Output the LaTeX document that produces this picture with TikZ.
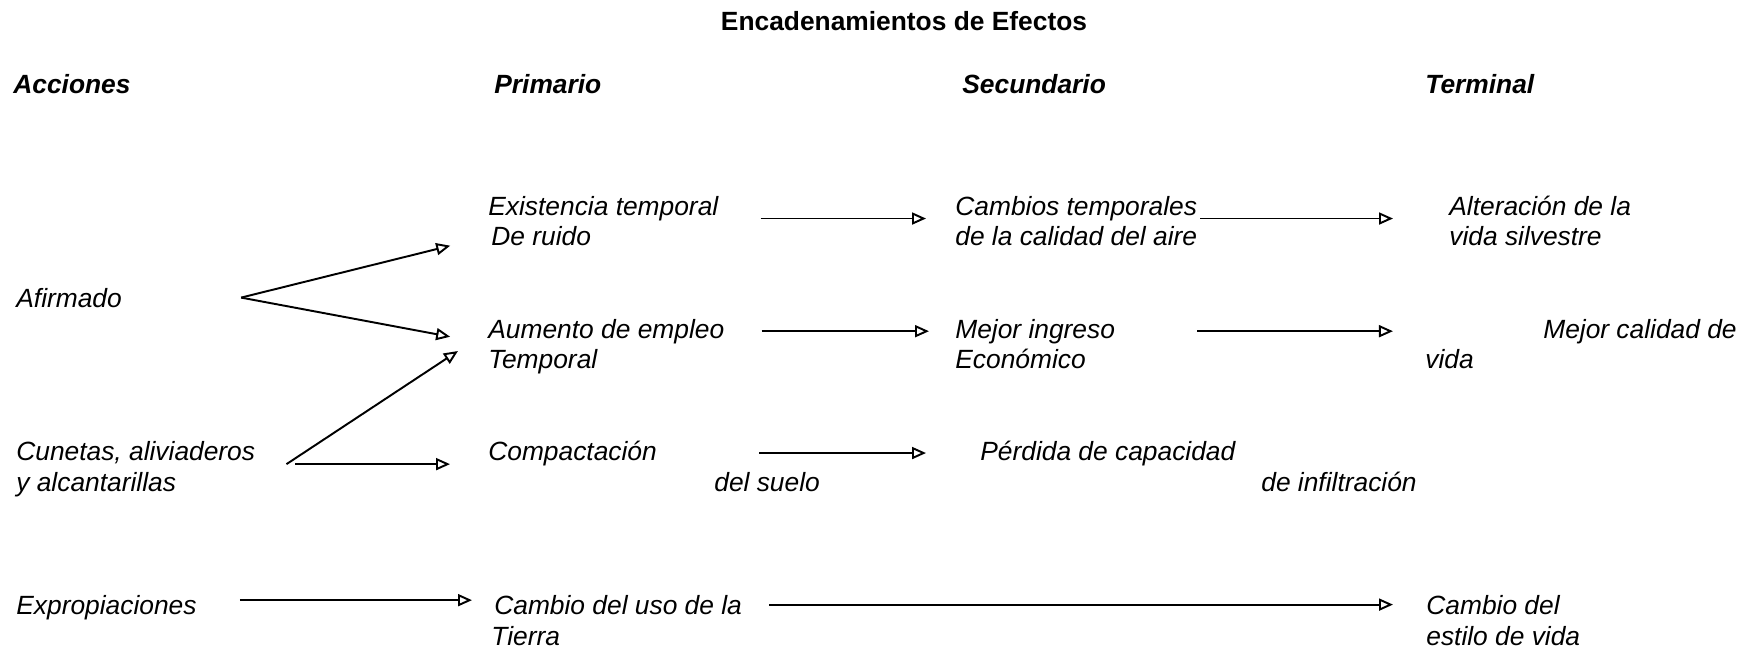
\documentclass[tikz,border=0pt]{standalone}
\usepackage{fontspec}
\setmainfont{Liberation Sans}
\usepackage{tikz}
\usetikzlibrary{arrows.meta, positioning, calc}

\begin{document}
\begin{tikzpicture}[
    x=0.02cm, y=-0.02cm,
    lbl/.style={inner sep=0pt, anchor=base west, font=\fontsize{15}{18}\selectfont\itshape},
    colhead/.style={lbl, font=\fontsize{15}{18}\selectfont\bfseries\itshape},
    arr/.style={-{Triangle[open, length=2.8mm, width=2.4mm, line width=1.1pt]}, line width=1.1pt}
]
\useasboundingbox (0,0) rectangle (1750,650);

% Title and column heads
\node[inner sep=0pt, anchor=base, font=\fontsize{15}{18}\selectfont\bfseries] (title) at (904,30) {Encadenamientos de Efectos};
\node[colhead] (acciones) at (13,93) {Acciones};
\node[colhead] (primario) at (494,93) {Primario};
\node[colhead] (secundario) at (962,93) {Secundario};
\node[colhead] (terminal) at (1425,93) {Terminal};

% Actions
\node[lbl] (afirm) at (16,307) {Afirmado};
\node[lbl] (cunetas) at (16,460) {Cunetas, aliviaderos};
\node[lbl] (cunetas2) at (16,491) {y alcantarillas};
\node[lbl] (expro) at (16,614) {Expropiaciones};

% Primary effects
\node[lbl] (exist) at (488,215) {Existencia temporal};
\node[lbl] (ruido) at (491,245) {De ruido};
\node[lbl] (aument) at (488,338) {Aumento de empleo};
\node[lbl] (aument2) at (488,368) {Temporal};
\node[lbl] (compact) at (488,460) {Compactación};
\node[lbl] (compact2) at (714,491) {del suelo};
\node[lbl] (uso) at (494,614) {Cambio del uso de la};
\node[lbl] (uso2) at (491,645) {Tierra};

% Secondary effects
\node[lbl] (cambt) at (955,215) {Cambios temporales};
\node[lbl] (cambt2) at (955,245) {de la calidad del aire};
\node[lbl] (mejing) at (955,338) {Mejor ingreso};
\node[lbl] (mejing2) at (955,368) {Económico};
\node[lbl] (perdida) at (980,460) {Pérdida de capacidad};
\node[lbl] (perdida2) at (1261,491) {de infiltración};

% Terminal effects
\node[lbl] (alter) at (1449,215) {Alteración de la};
\node[lbl] (alter2) at (1449,245) {vida silvestre};
\node[lbl, anchor=base east] (calidad) at (1737,338) {Mejor calidad de};
\node[lbl] (calidad2) at (1425,368) {vida};
\node[lbl] (estilo) at (1426,614) {Cambio del};
\node[lbl] (estilo2) at (1426,645) {estilo de vida};

% Forks
\coordinate (fork) at ([xshift=2.38cm]afirm.east);
\coordinate (cunfork) at ([shift={(31,12)}]cunetas.east);

\draw[arr, shorten >=0.84cm] (fork) -- (ruido.west);
\draw[arr, shorten >=0.77cm] (fork) -- (aument.south west);
\draw[arr, shorten >=0.72cm] (cunfork) -- (aument.west);
\draw[arr, shorten <=0.18cm, shorten >=0.76cm] (cunfork) -- (cunfork -| compact.west);

% Chains
\draw[arr, shorten <=0.84cm, shorten >=0.58cm] ([yshift=-2pt]exist.base east) -- ([yshift=-2pt]exist.base east -| cambt.west);
\draw[arr, shorten <=0.06cm, shorten >=1.12cm] ([yshift=-2pt]cambt.base east) -- ([yshift=-2pt]cambt.base east -| alter.west);
\draw[arr, shorten <=0.74cm, shorten >=0.52cm] (aument.east) -- (aument.east -| mejing.west);
\draw[arr, shorten <=1.64cm, shorten >=3.0cm] (mejing.east) -- (mejing.east -| calidad.west);
\draw[arr, shorten <=2.04cm, shorten >=1.08cm] (compact.east) -- (compact.east -| perdida.west);
\draw[arr, shorten <=0.86cm, shorten >=0.44cm] ([yshift=4pt]expro.east) -- ([yshift=4pt]expro.east -| uso.west);
\draw[arr, shorten <=0.54cm, shorten >=0.66cm] (uso.east) -- (uso.east -| estilo.west);
\end{tikzpicture}
\end{document}
